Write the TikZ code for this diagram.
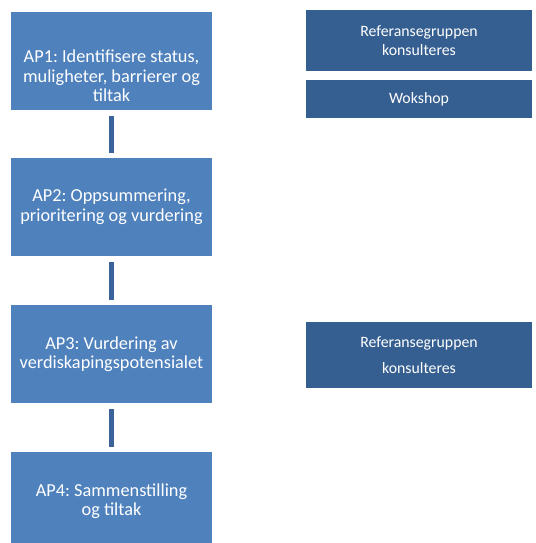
\documentclass[tikz,border=0pt]{standalone}
\usepackage{fontspec}
\setmainfont{Carlito}
\usetikzlibrary{positioning,calc}
\definecolor{apblue}{HTML}{4F81BD}
\definecolor{refblue}{HTML}{365F91}
\definecolor{linkblue}{HTML}{3A6399}
\def\apwidth{201pt}
\def\apheight{98pt}
\def\refwidth{226pt}

\tikzset{
  apbox/.style={rectangle, fill=apblue, text=white, minimum width=\apwidth, minimum height=\apheight,
    align=center, inner sep=0pt, font=\fontsize{18.3}{19.5}\selectfont},
  refbox/.style={rectangle, fill=refblue, text=white, minimum width=\refwidth,
    align=center, inner sep=0pt, font=\fontsize{15.8}{18.5}\selectfont},
  aplink/.style={draw=linkblue, line width=5pt}
}

\begin{document}
\frenchspacing
\begin{tikzpicture}[x=1pt,y=-1pt]
  \useasboundingbox (0,0) rectangle (535,543);

  \node[apbox] (AP1) at (111.5,61) {\rule{0pt}{43pt}AP1: Identifisere status,\\muligheter, barrierer og\\tiltak};
  \node[apbox] (AP2) at (111.5,207) {AP2: Oppsummering,\\prioritering og vurdering};
  \node[apbox] (AP3) at (111.5,354) {AP3: Vurdering av\\verdiskapingspotensialet};
  \node[apbox] (AP4) at (111.5,501) {AP4: Sammenstilling\\og tiltak};

  \draw[aplink] ($ (AP1.south) + (0,6) $) -- ($ (AP2.north) - (0,5) $);
  \draw[aplink] ($ (AP2.south) + (0,6) $) -- ($ (AP3.north) - (0,5) $);
  \draw[aplink] ($ (AP3.south) + (0,6) $) -- ($ (AP4.north) - (0,5) $);

  \node[refbox, minimum height=61pt] (REF1) at (419,40.5) {Referansegruppen\\konsulteres};
  \node[refbox, minimum height=38pt] (WS) at (419,99) {Wokshop};
  \node[refbox, minimum height=66pt, font=\fontsize{15.8}{26}\selectfont] (REF3) at (419,355) {Referansegruppen\\konsulteres};

\end{tikzpicture}
\end{document}
